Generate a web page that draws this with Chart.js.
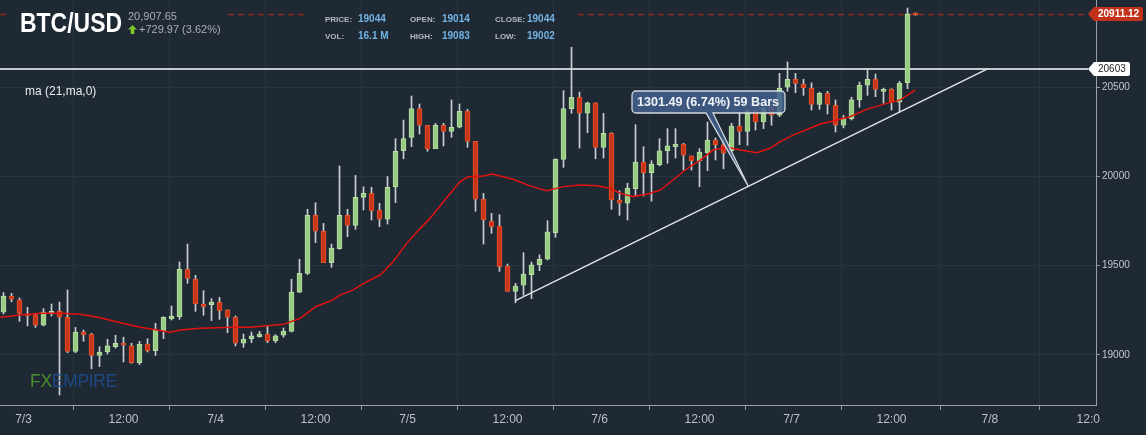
<!DOCTYPE html>
<html>
<head>
<meta charset="utf-8">
<title>BTC/USD</title>
<script src="https://cdn.jsdelivr.net/npm/chart.js@4.4.0/dist/chart.umd.min.js"></script>
<style>
  html, body { margin: 0; padding: 0; background: #1e2934; overflow: hidden; }
  #wrap { position: relative; width: 1146px; height: 435px; }
  #chart { position: absolute; left: 0; top: 0; }
  .t { position: absolute; white-space: nowrap; line-height: 1; font-family: "Liberation Sans", Arial, sans-serif; }
  .title { left: 20px; top: 9px; font-size: 28px; font-weight: bold; color: #ffffff; transform: scaleX(0.82); transform-origin: left top; }
  .last { left: 128px; top: 11px; font-size: 11px; color: #a9afb5; }
  .chg { left: 139px; top: 24px; font-size: 11px; color: #a9afb5; }
  .lbl { font-size: 8px; font-weight: bold; color: #b2b8bd; }
  .val { font-size: 10px; font-weight: bold; color: #74b3e3; }
  .ma { left: 25px; top: 85px; font-size: 12px; color: #e9ecef; }
  .wm { left: 30px; top: 373px; font-size: 17.5px; letter-spacing: -0.3px; opacity: 0.9; }
  .wm .fx { color: #4d9b2b; }
  .wm .em { color: #1f4c8a; }
  #arrow { position: absolute; left: 128px; top: 25px; }
</style>
</head>
<body>
<div id="wrap">
  <canvas id="chart" width="1146" height="435"></canvas>
  <div class="t title">BTC/USD</div>
  <div class="t last">20,907.65</div>
  <svg id="arrow" width="9" height="9" viewBox="0 0 9 9"><polygon points="4.5,0 9,4.5 6.3,4.5 6.3,9 2.7,9 2.7,4.5 0,4.5" fill="#7ec62c"/></svg>
  <div class="t chg">+729.97 (3.62%)</div>
  <div class="t lbl" style="left:325px;top:15.5px">PRICE:</div>
  <div class="t val" style="left:358px;top:13.5px">19044</div>
  <div class="t lbl" style="left:410px;top:15.5px">OPEN:</div>
  <div class="t val" style="left:442px;top:13.5px">19014</div>
  <div class="t lbl" style="left:495px;top:15.5px">CLOSE:</div>
  <div class="t val" style="left:527px;top:13.5px">19044</div>
  <div class="t lbl" style="left:325px;top:32.5px">VOL:</div>
  <div class="t val" style="left:358px;top:30.5px">16.1 M</div>
  <div class="t lbl" style="left:410px;top:32.5px">HIGH:</div>
  <div class="t val" style="left:442px;top:30.5px">19083</div>
  <div class="t lbl" style="left:495px;top:32.5px">LOW:</div>
  <div class="t val" style="left:527px;top:30.5px">19002</div>
  <div class="t ma">ma (21,ma,0)</div>
  <div class="t wm"><span class="fx">FX</span><span class="em">EMPIRE</span></div>
</div>
<script>
// Hourly candles, index 0 = first visible bar (7/2 21:00)
const opens = [
  19240, 19330, 19308, 19229, 19225, 19166, 19233, 19244, 19211, 19020,
  19128, 19117, 18997, 19016, 19046, 19065, 19050, 18956, 19061, 19023,
  19136, 19203, 19214, 19480, 19424, 19285, 19281, 19296, 19252, 19211,
  19065, 19091, 19102, 19117, 19079, 19110, 19132, 19352, 19457, 19782,
  19693, 19517, 19595, 19782, 19726, 19883, 19905, 19812, 19760, 19942,
  20145, 20219, 20380, 20287, 20156, 20287, 20253, 20276, 20365, 20197,
  19872, 19748, 19722, 19498, 19356, 19390, 19449, 19505, 19536, 19685,
  20096, 20380, 20444, 20354, 20413, 20163, 20242, 19868, 19850, 19932,
  20081, 20021, 20066, 20144, 20167, 20182, 20115, 20088, 20133, 20204,
  20178, 20144, 20283, 20253, 20365, 20305, 20384, 20343, 20500, 20545,
  20517, 20494, 20404, 20466, 20399, 20287, 20324, 20429, 20511, 20545,
  20477, 20488, 20417, 20525, 20911
];
const highs = [
  19349, 19345, 19319, 19267, 19233, 19259, 19285, 19296, 19364, 19154,
  19139, 19121, 19046, 19087, 19110, 19099, 19065, 19076, 19091, 19177,
  19214, 19274, 19521, 19621, 19446, 19360, 19315, 19323, 19252, 19218,
  19117, 19128, 19132, 19166, 19113, 19151, 19424, 19536, 19816, 19853,
  19737, 19621, 20059, 19816, 20006, 19942, 19939, 19849, 19999, 20212,
  20316, 20451, 20406, 20287, 20298, 20298, 20429, 20406, 20376, 20197,
  19905, 19793, 19786, 19509, 19401, 19573, 19520, 19561, 19752, 20099,
  20481, 20724, 20473, 20417, 20413, 20354, 20245, 19920, 19962, 20290,
  20167, 20088, 20212, 20268, 20268, 20186, 20115, 20156, 20305, 20216,
  20208, 20298, 20357, 20376, 20373, 20384, 20391, 20578, 20642, 20578,
  20545, 20525, 20473, 20477, 20429, 20343, 20444, 20529, 20597, 20574,
  20495, 20492, 20533, 20944, 20916
];
const lows = [
  19229, 19297, 19188, 19162, 19154, 19162, 19218, 18775, 19012, 19012,
  19076, 18922, 18934, 19005, 19038, 18960, 18953, 18945, 19016, 18997,
  19091, 19195, 19199, 19401, 19244, 19222, 19192, 19199, 19124, 19050,
  19042, 19068, 19099, 19068, 19068, 19099, 19128, 19349, 19450, 19629,
  19517, 19491, 19592, 19662, 19704, 19812, 19756, 19718, 19733, 19853,
  20099, 20167, 20238, 20141, 20156, 20171, 20219, 20272, 20163, 19805,
  19621, 19681, 19468, 19356, 19292, 19334, 19315, 19472, 19532, 19659,
  20051, 20354, 20159, 20245, 20099, 20103, 19816, 19782, 19756, 19890,
  19890, 19861, 20059, 20074, 20103, 20036, 20036, 19942, 20032, 20092,
  20043, 20141, 20178, 20175, 20260, 20268, 20287, 20335, 20477, 20469,
  20455, 20372, 20376, 20350, 20249, 20272, 20316, 20388, 20455, 20447,
  20410, 20372, 20361, 20492, 20903
];
const closes = [
  19330, 19312, 19233, 19218, 19166, 19240, 19244, 19211, 19020, 19128,
  19113, 18997, 19016, 19050, 19065, 19054, 18956, 19061, 19023, 19139,
  19211, 19218, 19480, 19429, 19285, 19270, 19296, 19248, 19211, 19065,
  19087, 19106, 19117, 19079, 19106, 19132, 19352, 19457, 19782, 19693,
  19517, 19599, 19782, 19726, 19883, 19905, 19808, 19760, 19939, 20141,
  20212, 20380, 20287, 20156, 20287, 20253, 20276, 20365, 20197, 19872,
  19756, 19718, 19494, 19356, 19386, 19453, 19505, 19536, 19689, 20096,
  20380, 20444, 20354, 20413, 20163, 20242, 19868, 19850, 19935, 20081,
  20021, 20070, 20144, 20171, 20182, 20119, 20088, 20137, 20204, 20178,
  20130, 20283, 20253, 20365, 20305, 20384, 20343, 20494, 20545, 20522,
  20497, 20404, 20466, 20404, 20287, 20324, 20429, 20511, 20545, 20488,
  20488, 20417, 20522, 20911, 20906
];

// ma (21): bar index / value
const maIdx = [
  -0.4, 2.1, 4.6, 7.1, 9.6, 12.1, 14.6, 17.1, 19.6, 20.8,
  22.1, 24.6, 28.7, 30.8, 32.9, 35, 37.1, 39, 41.2, 42.1,
  43.7, 45.4, 47.1, 48.7, 50.4, 52.1, 53.3, 55.5, 57.1, 58.1,
  60, 61.1, 63.7, 65.8, 67.9, 70, 72.1, 74.2, 75.8, 77.1,
  78.7, 80.4, 82.1, 83.7, 85.5, 87.1, 88.7, 90.5, 92.1, 94.2,
  95.8, 97.1, 98.7, 102.1, 103.7, 105.8, 107.9, 110, 112.1, 114
];
const maVal = [
  19211, 19223, 19233, 19233, 19227, 19208, 19180, 19155, 19136, 19127,
  19139, 19149, 19155, 19155, 19163, 19171, 19205, 19270, 19308, 19336,
  19364, 19410, 19448, 19522, 19625, 19709, 19765, 19886, 19971, 19999,
  20003, 20014, 19984, 19947, 19920, 19943, 19952, 19948, 19934, 19906,
  19887, 19900, 19924, 19980, 20046, 20092, 20148, 20163, 20148, 20133,
  20158, 20195, 20232, 20294, 20311, 20335, 20376, 20404, 20429, 20485
];

// trend line drawn on the chart (bar index / price)
const trendIdx = [64, 123];
const trendVal = [19304, 20603];

// axis ticks
const xTickPos = [2.5, 15, 26.5, 39, 50.5, 63, 74.5, 87, 98.5, 111, 123.3, 135.6];
const xTickLabels = ['7/3', '12:00', '7/4', '12:00', '7/5', '12:00', '7/6', '12:00', '7/7', '12:00', '7/8', '12:0'];
const yTicks = [19000, 19500, 20000, 20500];

// price levels and annotation
const lastPrice = 20911.12;
const levelPrice = 20603;
const annText = '1301.49 (6.74%) 59 Bars';
const annTipIdx = 93.1;
const annTipVal = 19945;

const GREEN = '#98cc80', GREEN_EDGE = '#b6dda2';
const RED = '#c83616', RED_EDGE = '#e4522a';
const WICK = '#c9cfd4';
const GRID = '#283540';

const barIdx = opens.map((_, i) => i);
const isUp = barIdx.map(i => closes[i] >= opens[i]);

const overlayPlugin = {
  id: 'overlay',
  beforeDatasetsDraw(chart) {
    const { ctx, chartArea, scales: { y } } = chart;
    ctx.save();
    // horizontal level
    const ly = Math.round(y.getPixelForValue(levelPrice));
    ctx.strokeStyle = '#c3c8cd';
    ctx.lineWidth = 2;
    ctx.beginPath();
    ctx.moveTo(chartArea.left, ly);
    ctx.lineTo(1088, ly);
    ctx.stroke();
    // dashed last price line, broken where the header sits
    const py = Math.round(y.getPixelForValue(lastPrice)) + 0.5;
    ctx.strokeStyle = '#8c2c22';
    ctx.lineWidth = 1.6;
    ctx.setLineDash([6, 4]);
    [[0, 8], [228, 308], [578, 1086]].forEach(([a, b]) => {
      ctx.beginPath();
      ctx.moveTo(a, py);
      ctx.lineTo(b, py);
      ctx.stroke();
    });
    ctx.restore();
  },
  afterDatasetsDraw(chart) {
    const { ctx, scales: { x, y } } = chart;
    const tipX = x.getPixelForValue(annTipIdx);
    const tipY = y.getPixelForValue(annTipVal);
    const bx = 632, by = 91, bw = 153, bh = 22, r = 4;
    ctx.save();
    ctx.beginPath();
    ctx.moveTo(bx + r, by);
    ctx.lineTo(bx + bw - r, by);
    ctx.arcTo(bx + bw, by, bx + bw, by + r, r);
    ctx.lineTo(bx + bw, by + bh - r);
    ctx.arcTo(bx + bw, by + bh, bx + bw - r, by + bh, r);
    ctx.lineTo(713, by + bh);
    ctx.lineTo(tipX, tipY);
    ctx.lineTo(706, by + bh);
    ctx.lineTo(bx + r, by + bh);
    ctx.arcTo(bx, by + bh, bx, by + bh - r, r);
    ctx.lineTo(bx, by + r);
    ctx.arcTo(bx, by, bx + r, by, r);
    ctx.closePath();
    ctx.fillStyle = 'rgba(68, 96, 140, 0.86)';
    ctx.fill();
    ctx.strokeStyle = 'rgba(228, 234, 240, 0.9)';
    ctx.lineWidth = 1.3;
    ctx.stroke();
    ctx.fillStyle = '#f1f4f7';
    ctx.font = 'bold 12.6px "Liberation Sans", Arial, sans-serif';
    ctx.textBaseline = 'alphabetic';
    ctx.fillText(annText, 637, 106);
    ctx.restore();
  },
  afterDraw(chart) {
    const { ctx, scales: { y } } = chart;
    const tag = (value, text, fill, color, right, bold) => {
      const cy = Math.round(y.getPixelForValue(value));
      ctx.save();
      ctx.beginPath();
      ctx.moveTo(1088, cy);
      ctx.lineTo(1094, cy - 7);
      ctx.lineTo(right - 2, cy - 7);
      ctx.quadraticCurveTo(right, cy - 7, right, cy - 5);
      ctx.lineTo(right, cy + 5);
      ctx.quadraticCurveTo(right, cy + 7, right - 2, cy + 7);
      ctx.lineTo(1094, cy + 7);
      ctx.closePath();
      ctx.fillStyle = fill;
      ctx.fill();
      ctx.fillStyle = color;
      ctx.font = (bold ? 'bold ' : '') + '10px "Liberation Sans", Arial, sans-serif';
      ctx.textBaseline = 'middle';
      ctx.fillText(text, 1098, cy + 0.5);
      ctx.restore();
    };
    tag(lastPrice, lastPrice.toFixed(2), '#c2321a', '#ffffff', 1143, true);
    tag(levelPrice, String(levelPrice), '#ffffff', '#1b1f23', 1130, false);
  }
};

const ctx = document.getElementById('chart').getContext('2d');
new Chart(ctx, {
  type: 'bar',
  data: {
    datasets: [
      {
        label: 'wicks',
        data: barIdx.map(i => ({ x: i, y: [lows[i], highs[i]] })),
        backgroundColor: WICK,
        borderWidth: 0,
        barThickness: 1,
        grouped: false,
        order: 4
      },
      {
        label: 'bodies',
        data: barIdx.map(i => ({ x: i, y: [opens[i], closes[i]] })),
        backgroundColor: isUp.map(u => u ? GREEN : RED),
        borderColor: isUp.map(u => u ? GREEN_EDGE : RED_EDGE),
        borderWidth: 1,
        borderSkipped: false,
        barThickness: 5,
        minBarLength: 2,
        grouped: false,
        order: 3
      },
      {
        type: 'line',
        label: 'ma (21,ma,0)',
        data: maIdx.map((v, i) => ({ x: v, y: maVal[i] })),
        borderColor: '#e3120f',
        borderWidth: 1.5,
        pointRadius: 0,
        tension: 0,
        order: 2
      },
      {
        type: 'line',
        label: 'trend',
        data: trendIdx.map((v, i) => ({ x: v, y: trendVal[i] })),
        borderColor: '#e4e7ea',
        borderWidth: 1.3,
        pointRadius: 0,
        order: 1
      }
    ]
  },
  options: {
    responsive: false,
    animation: false,
    events: [],
    layout: { padding: 0 },
    plugins: {
      legend: { display: false },
      tooltip: { enabled: false }
    },
    scales: {
      x: {
        type: 'linear',
        position: 'bottom',
        min: -0.4375,
        max: 136.5625,
        offset: false,
        afterBuildTicks: scale => { scale.ticks = xTickPos.map(v => ({ value: v })); },
        afterFit: scale => {
          scale.height = 30;
          scale.paddingLeft = 0;
          scale.paddingRight = 0;
        },
        ticks: {
          autoSkip: false,
          maxRotation: 0,
          padding: 2,
          color: '#bcc1c6',
          font: { family: '"Liberation Sans", Arial, sans-serif', size: 12 },
          callback: (value, index) => xTickLabels[index]
        },
        grid: { color: GRID, tickColor: '#8e959b', tickLength: 5 },
        border: { color: '#9aa1a7', width: 1 }
      },
      y: {
        type: 'linear',
        position: 'right',
        min: 18719,
        max: 20989,
        afterBuildTicks: scale => { scale.ticks = yTicks.map(v => ({ value: v })); },
        afterFit: scale => {
          scale.width = 50;
          scale.paddingTop = 0;
          scale.paddingBottom = 0;
        },
        ticks: {
          padding: 2,
          color: '#c3c8cc',
          font: { family: '"Liberation Sans", Arial, sans-serif', size: 10 },
          callback: value => String(value)
        },
        grid: { color: GRID, tickColor: '#8e959b', tickLength: 4 },
        border: { color: '#9aa1a7', width: 1 }
      }
    }
  },
  plugins: [overlayPlugin]
});
</script>
</body>
</html>
